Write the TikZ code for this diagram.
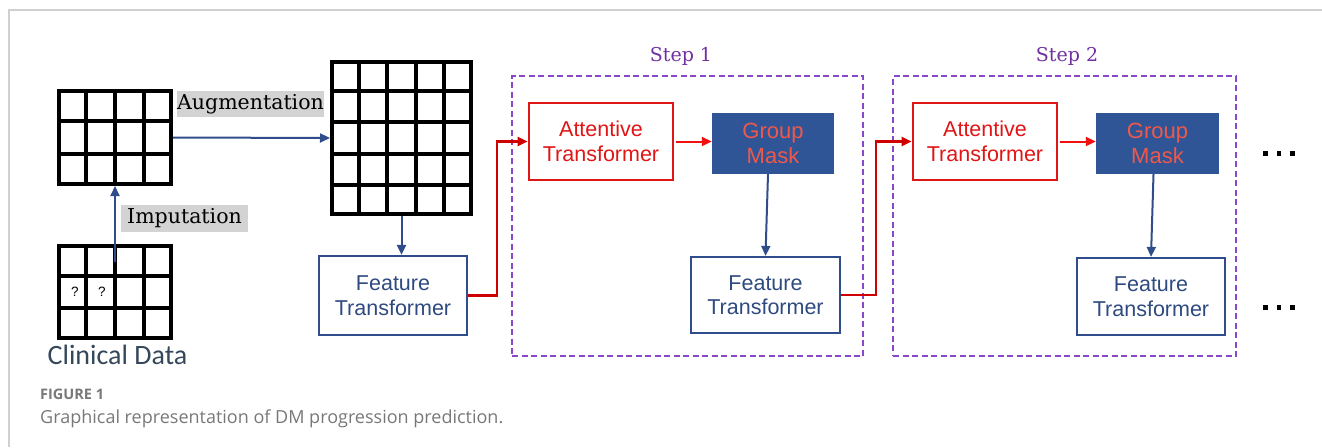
\documentclass[tikz,border=0pt]{standalone}
\usepackage{fontspec}
\setmainfont{Liberation Serif}
\setsansfont{Liberation Sans}
\newfontfamily\labelserif{DejaVu Serif}
\newfontfamily\clinfont{Carlito}
\newfontfamily\capfont{Open Sans}
\usetikzlibrary{arrows.meta,calc}

\definecolor{ftblue}{HTML}{2F4D8A}
\definecolor{fttext}{HTML}{2E4A80}
\definecolor{gmfill}{HTML}{2F5597}
\definecolor{gmtext}{HTML}{F0584A}
\definecolor{attred}{HTML}{E01515}
\definecolor{arrred}{HTML}{F01010}
\definecolor{linkred}{HTML}{D00000}
\definecolor{steppurple}{HTML}{8A48C8}
\definecolor{steptext}{HTML}{7030A0}
\definecolor{lblgray}{HTML}{D3D3D3}
\definecolor{clintext}{HTML}{35475A}
\definecolor{capgray}{HTML}{787878}
\definecolor{framegray}{HTML}{D0D0D0}

\begin{document}
\begin{tikzpicture}[x=1pt,y=-1pt,
  tip/.style={-{Triangle[length=10pt,width=9pt]}},
  gridbox/.style={draw=black,line width=4pt,line join=miter,inner sep=0pt},
  gridline/.style={draw=black,line width=4pt},
  boxtext/.style={font=\sffamily\fontsize{21.5}{24.5}\selectfont,align=center,inner sep=0pt},
  ftbox/.style={boxtext,draw=ftblue,line width=2.2pt,text=fttext},
  attbox/.style={boxtext,draw=attred,line width=2.6pt,text=attred},
  gmbox/.style={boxtext,fill=gmfill,text=gmtext,font=\sffamily\fontsize{22}{25}\selectfont},
  stepbox/.style={draw=steppurple,line width=2.2pt,dash pattern=on 6pt off 3.5pt,inner sep=0pt},
  steplbl/.style={text=steptext,font=\labelserif\fontsize{19}{22}\selectfont,inner sep=0pt,anchor=base},
  graylbl/.style={fill=lblgray,font=\labelserif\fontsize{20.5}{24}\selectfont,inner sep=0pt},
  bluearrow/.style={tip,draw=ftblue,line width=2pt},
  redarrow/.style={tip,draw=arrred,line width=2pt},
  redlink/.style={tip,draw=linkred,line width=2.4pt},
]
\useasboundingbox (0,0) rectangle (1322,447);

% page frame
\draw[framegray,line width=1.2pt] (1322,10) -- (9,10) -- (9,447);

% data tables
\node[gridbox,minimum width=112pt,minimum height=93pt] (clean) at (115,137.5) {};
\node[gridbox,minimum width=112pt,minimum height=92pt] (raw) at (115,292) {};
\node[gridbox,minimum width=139pt,minimum height=152pt] (aug) at (401.5,138) {};
\foreach \t/\c/\r in {clean/4/3,raw/4/3,aug/5/5}{
  \pgfmathtruncatemacro{\cc}{\c-1}
  \pgfmathtruncatemacro{\rr}{\r-1}
  \foreach \i in {1,...,\cc}
    \draw[gridline] ($(\t.north west)!\i/\c!(\t.north east)$) -- ($(\t.south west)!\i/\c!(\t.south east)$);
  \foreach \j in {1,...,\rr}
    \draw[gridline] ($(\t.north west)!\j/\r!(\t.south west)$) -- ($(\t.north east)!\j/\r!(\t.south east)$);
}
\node[font=\sffamily\fontsize{13.5}{15}\selectfont,inner sep=0pt] (q1) at (75,292) {?};
\node[font=\sffamily\fontsize{13.5}{15}\selectfont,inner sep=0pt] (q2) at (102,292) {?};
\node[text=clintext,font=\clinfont\fontsize{28}{32}\selectfont,inner sep=0pt,anchor=base] (clin) at (117.5,364) {Clinical Data};

% preprocessing labels and arrows
\node[graylbl,minimum width=127pt,minimum height=27pt] (imp) at (184.5,218.5) {Imputation};
\node[graylbl,minimum width=147pt,minimum height=26pt] (augl) at (250.5,104) {Augmentation};
\coordinate (impstart) at ($(raw.north)+(0,18)$);
\draw[bluearrow] (impstart) -- (clean.south);
\draw[bluearrow] (clean.east) -- (aug.west);

% step containers
\node[stepbox,minimum width=351pt,minimum height=280pt] (s1) at (687.5,216) {};
\node[stepbox,minimum width=343pt,minimum height=280pt] (s2) at (1064.5,216) {};
\node[steplbl] (s1lbl) at (681,61) {Step 1};
\node[steplbl] (s2lbl) at (1067,61) {Step 2};

% processing blocks
\node[ftbox,minimum width=148pt,minimum height=79pt] (ft1) at (393,295.5) {Feature\\Transformer};
\node[attbox,minimum width=144pt,minimum height=77pt] (att1) at (601,141.5) {Attentive\\Transformer};
\node[gmbox,minimum width=122pt,minimum height=61pt] (gm1) at (773,143.5) {Group\\Mask};
\node[ftbox,minimum width=149pt,minimum height=76pt] (ft2) at (765.5,295) {Feature\\Transformer};
\node[attbox,minimum width=144pt,minimum height=77pt] (att2) at (985,141.5) {Attentive\\Transformer};
\node[gmbox,minimum width=123pt,minimum height=61pt] (gm2) at (1157.5,143.5) {Group\\Mask};
\node[ftbox,minimum width=148pt,minimum height=77pt] (ft3) at (1151,296.5) {Feature\\Transformer};

% connections
\draw[bluearrow] (aug.south) -- (aug.south |- ft1.north);
\draw[redlink] (ft1.east) -- ++(29,0) |- (att1.west);
\draw[redarrow] ([xshift=2pt]att1.east) -- (att1.east -| gm1.west);
\draw[bluearrow] ([xshift=-5pt]gm1.south) -- (ft2.north);
\draw[redlink] (ft2.east) -- ++(35,0) |- (att2.west);
\draw[redarrow] ([xshift=2pt]att2.east) -- (att2.east -| gm2.west);
\draw[bluearrow] ([xshift=-4pt]gm2.south) -- (ft3.north);

% continuation dots
\foreach \y in {153,307}
  \foreach \i in {0,1,2}
    \fill (1263+\i*13.5,\y-2) rectangle ++(4.5,4.5);

% caption
\node[text=capgray,font=\capfont\bfseries\fontsize{14.5}{18}\selectfont,inner sep=0pt,anchor=base west] (figno) at (40,399) {FIGURE 1};
\node[text=capgray,font=\capfont\fontsize{18}{21}\selectfont,inner sep=0pt,anchor=base west] (cap) at (40,423) {Graphical representation of DM progression prediction.};
\end{tikzpicture}
\end{document}
